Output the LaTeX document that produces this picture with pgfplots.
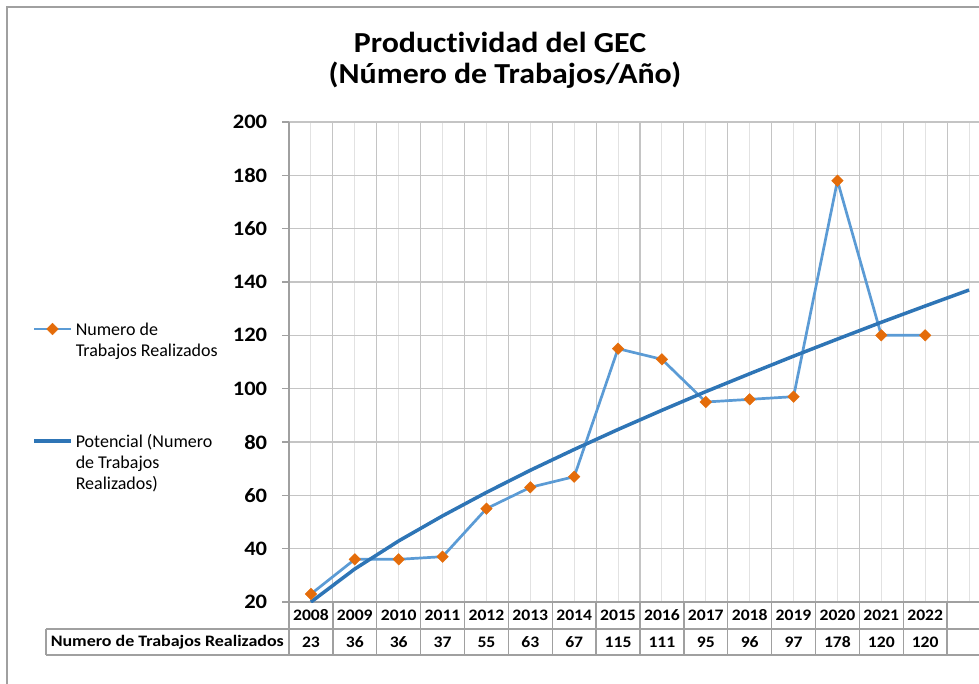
\documentclass[border=0pt]{standalone}
\usepackage{fontspec}
\setmainfont{Carlito}[Ligatures=NoCommon]
\usepackage{graphicx}
\usepackage{pgfplots}
\usepackage{pgfplotstable}
\pgfplotsset{compat=1.18}

\definecolor{serieblue}{HTML}{5B9BD5}
\definecolor{trendblue}{HTML}{2E75B6}
\definecolor{markorange}{HTML}{E46C0A}
\definecolor{gridmajor}{HTML}{C4C4C4}
\definecolor{gridminor}{HTML}{E2E2E2}
\definecolor{axisgray}{HTML}{A0A0A0}

% trabajos realizados por año (x = posición de la categoría)
\pgfplotstableread{
x year trabajos
1 2008 23
2 2009 36
3 2010 36
4 2011 37
5 2012 55
6 2013 63
7 2014 67
8 2015 115
9 2016 111
10 2017 95
11 2018 96
12 2019 97
13 2020 178
14 2021 120
15 2022 120
}\datos

% línea de tendencia potencial (un periodo hacia adelante)
\pgfplotstableread{
x potencial
1 20.0
2 32.4
3 42.9
4 52.3
5 61.1
6 69.4
7 77.2
8 84.7
9 91.9
10 98.9
11 105.6
12 112.2
13 118.6
14 124.9
15 131.0
16 137.0
}\tendencia

\begin{document}
\begin{tikzpicture}
% marco del gráfico
\draw[axisgray, line width=1.5bp] (7bp,-1000bp) -- (7bp,-7bp) -- (1200bp,-7bp);

\node[font=\fontsize{29bp}{33bp}\selectfont\bfseries, xscale=1.1, anchor=base] at (500bp,-52bp) {Productividad del GEC};
\node[font=\fontsize{29bp}{33bp}\selectfont\bfseries, xscale=1.1, anchor=base] at (505bp,-83bp) {(Número de Trabajos/Año)};

\begin{axis}[
    at={(289bp,-602bp)}, anchor=south west,
    scale only axis,
    width=702bp, height=480bp,
    xmin=0.5, xmax=16.5,
    ymin=20, ymax=200,
    ytick={20,40,...,200},
    xtick={1,...,16},
    xticklabels={2008,2009,2010,2011,2012,2013,2014,2015,2016,2017,2018,2019,2020,2021,2022,},
    minor xtick={0.5,1.5,...,16.5},
    extra x ticks={1,...,15},
    extra x tick labels={23,36,36,37,55,63,67,115,111,95,96,97,178,120,120},
    extra x tick style={grid=none, xticklabel style={yshift=-26.5bp}},
    axis x line*=bottom, axis y line*=left,
    axis line style={axisgray, line width=1.5bp},
    tick align=outside,
    major tick length=7bp,
    minor tick length=0pt,
    xtick style={draw=none},
    ytick style={axisgray, line width=1.2bp},
    xmajorgrids, ymajorgrids, xminorgrids,
    major grid style={gridmajor, line width=1.1bp},
    major x grid style={gridminor, line width=1.1bp},
    minor grid style={gridmajor, line width=1.1bp},
    /pgf/number format/assume math mode=true,
    yticklabel style={font=\fontsize{20.5bp}{23bp}\selectfont\bfseries, xscale=1.1, xshift=-10bp},
    xticklabel style={font=\fontsize{16bp}{19bp}\selectfont\bfseries, xscale=1.1, anchor=center, yshift=-6.5bp},
    legend style={
        at={(-0.366,0.586)}, anchor=north west,
        draw=none, fill=none, inner sep=0pt,
        font=\fontsize{18bp}{21bp}\selectfont,
        row sep=96bp, column sep=3bp,
        nodes={inner sep=0pt},
    },
    legend cell align=left,
    legend image code/.code={
        \draw[mark repeat=2, mark phase=2, #1] plot coordinates {(0bp,0bp) (18.5bp,0bp) (37bp,0bp)};
    },
]
\addplot[serieblue, line width=2.7bp, mark=square*, mark size=4.1bp,
    mark options={fill=markorange, draw=markorange, rotate=45, line width=0.4bp, solid}]
    table[x=x, y=trabajos]{\datos};
\addlegendentry{\begin{tabular}[t]{@{}l@{}}Numero de\\Trabajos Realizados\end{tabular}}
\addplot[trendblue, line width=3.5bp, no marks] table[x=x, y=potencial]{\tendencia};
\addlegendentry{\begin{tabular}[t]{@{}l@{}}Potencial (Numero\\de Trabajos\\Realizados)\end{tabular}}
\end{axis}

% tabla de datos bajo el eje
\begin{scope}[axisgray, line width=1.3bp]
\draw (46bp,-629bp) -- (1200bp,-629bp);
\draw (46bp,-655bp) -- (1200bp,-655bp);
\draw (46bp,-629bp) -- (46bp,-655bp);
\foreach \k in {0,...,16} {
    \pgfmathsetmacro{\xc}{289+43.875*\k}
    \draw (\xc bp,-602bp) -- (\xc bp,-655bp);
}
\end{scope}
\node[font=\fontsize{16bp}{19bp}\selectfont\bfseries, anchor=east, inner sep=0pt] at (284bp,-642bp) {\resizebox{233bp}{\height}{Numero de Trabajos Realizados}};

\pgfresetboundingbox
\path[use as bounding box] (0,0) rectangle (979bp,-684bp);
\end{tikzpicture}
\end{document}
